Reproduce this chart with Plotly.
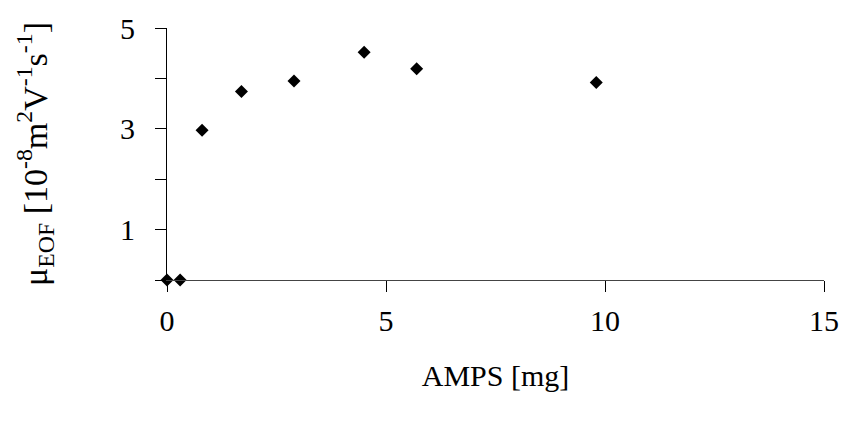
import plotly.graph_objects as go

# AMPS amount [mg] and electroosmotic mobility [1e-8 m^2 V^-1 s^-1]
amps_mg = [0.0, 0.3, 0.8, 1.7, 2.9, 4.5, 5.7, 9.8]
mu_eof = [0.0, 0.0, 2.97, 3.74, 3.95, 4.52, 4.19, 3.92]

x_ticks = [0, 5, 10, 15]
y_ticks = [0, 1, 2, 3, 4, 5]
y_ticktext = ["", "1", "", "3", "", "5"]

font_family = "Liberation Serif, Times New Roman, serif"

fig = go.Figure(
    go.Scatter(
        x=amps_mg,
        y=mu_eof,
        mode="markers",
        marker=dict(symbol="diamond", size=10, color="black"),
        cliponaxis=False,
        showlegend=False,
    )
)

fig.update_layout(
    width=841,
    height=427,
    margin=dict(l=167, r=17, t=28, b=147),
    paper_bgcolor="white",
    plot_bgcolor="white",
    font=dict(family=font_family, size=30, color="black"),
)

fig.update_xaxes(
    range=[0, 15],
    tickvals=x_ticks,
    ticks="outside",
    ticklen=11,
    tickwidth=1,
    tickcolor="black",
    showline=True,
    linecolor="#444",
    linewidth=1,
    showgrid=False,
    zeroline=False,
    automargin=False,
    ticklabelstandoff=3,
    title=dict(text="AMPS [mg]", standoff=28, font=dict(size=30)),
)

fig.update_yaxes(
    range=[0, 5],
    tickvals=y_ticks,
    ticktext=y_ticktext,
    ticks="outside",
    ticklen=11,
    tickwidth=1,
    tickcolor="black",
    showline=True,
    linecolor="black",
    linewidth=1,
    showgrid=False,
    zeroline=False,
    automargin=False,
    ticklabelstandoff=14,
    title=dict(
        text="μ<sub>EOF</sub> [10<sup>-8</sup>m<sup>2</sup>V<sup>-1</sup>s<sup>-1</sup>]",
        standoff=62,
        font=dict(size=34),
    ),
)

fig.write_html("out.html")
